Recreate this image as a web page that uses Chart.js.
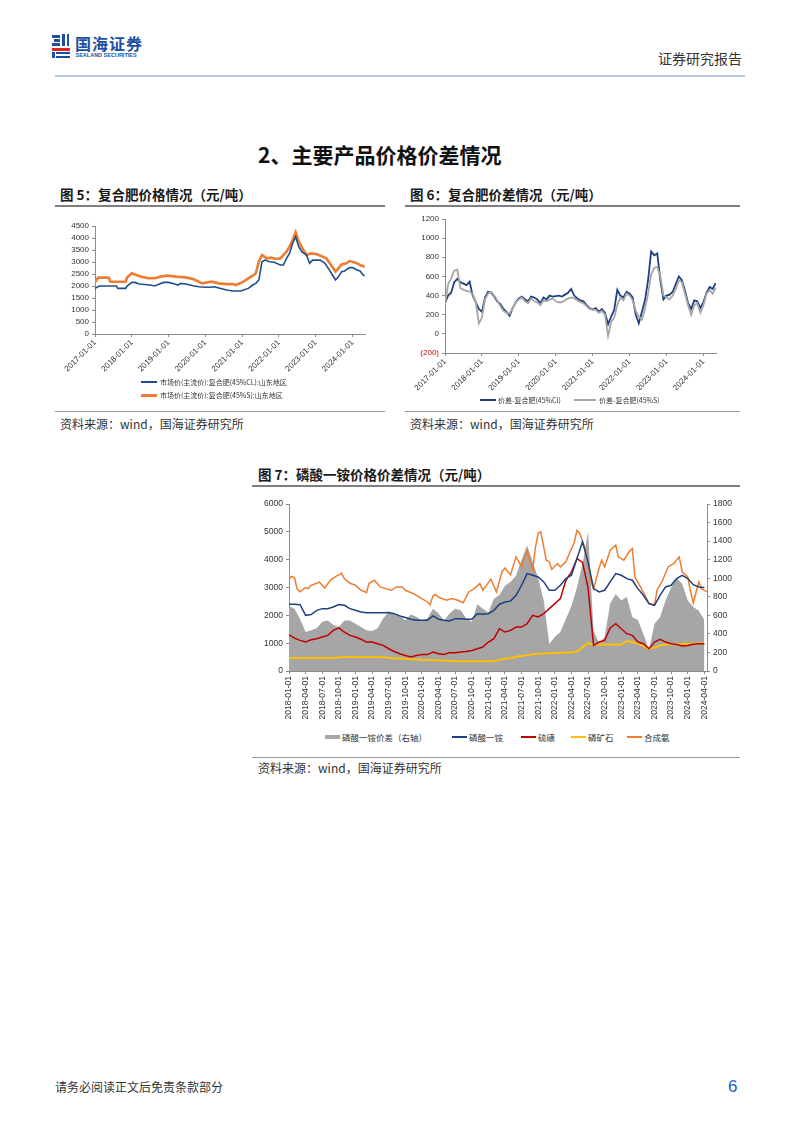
<!DOCTYPE html>
<html><head><meta charset="utf-8">
<script src="https://cdn.jsdelivr.net/npm/chart.js@4.4.1/dist/chart.umd.min.js"></script>
<style>
body{margin:0;background:#fff;}
#page{position:relative;width:802px;height:1133px;overflow:hidden;font-family:"Noto Sans CJK SC","Liberation Sans",sans-serif;color:#1a1a1a;background:#fff;}
.a{position:absolute;white-space:nowrap;line-height:1;}
.b{position:absolute;}
canvas{position:absolute;}
.lg{position:absolute;white-space:nowrap;line-height:1;color:#333;}
</style></head><body><div id="page">

<!-- header logo -->
<div class="b" style="left:52px;top:35px;width:8px;height:2.5px;background:#1e4fa3"></div>
<div class="b" style="left:54px;top:39px;width:6px;height:2.5px;background:#1e4fa3"></div>
<div class="b" style="left:52px;top:43px;width:8px;height:2.5px;background:#1e4fa3"></div>
<div class="b" style="left:62px;top:34px;width:2.5px;height:12px;background:#1e4fa3"></div>
<div class="b" style="left:66.5px;top:34px;width:2.5px;height:12px;background:#1e4fa3"></div>
<div class="b" style="left:52px;top:47.5px;width:18px;height:3px;background:#e0231d"></div>
<div class="b" style="left:52px;top:51.5px;width:2.5px;height:6.5px;background:#1e4fa3"></div>
<div class="b" style="left:56px;top:52px;width:14px;height:2.2px;background:#1e4fa3"></div>
<div class="b" style="left:56px;top:55.8px;width:14px;height:2.2px;background:#1e4fa3"></div>
<div class="a" style="left:75px;top:35px;font-size:16px;font-weight:700;color:#1e4fa3;letter-spacing:1px">国海证券</div>
<div class="a" style="left:75.5px;top:53px;font-size:5.5px;font-weight:700;color:#1e4fa3;font-family:'Liberation Sans'">SEALAND SECURITIES</div>
<div class="a" style="left:658px;top:51px;font-size:14px;color:#333">证券研究报告</div>
<div class="b" style="left:55px;top:75px;width:690px;height:2px;background:#b4c7e7"></div>

<!-- section title -->
<div class="a" style="left:258px;top:144px;font-size:21px;font-weight:700;color:#111">2、主要产品价格价差情况</div>

<!-- figure 5 / 6 titles -->
<div class="a" style="left:60px;top:188px;font-size:13.5px;font-weight:700">图 5：复合肥价格情况（元/吨）</div>
<div class="b" style="left:55px;top:205px;width:330px;height:2px;background:#7f7f7f"></div>
<div class="a" style="left:410px;top:188px;font-size:13.5px;font-weight:700">图 6：复合肥价差情况（元/吨）</div>
<div class="b" style="left:405px;top:205px;width:335px;height:2px;background:#7f7f7f"></div>

<canvas id="c5" width="330" height="168" style="left:55px;top:210px"></canvas>
<canvas id="c6" width="335" height="180" style="left:405px;top:210px"></canvas>

<!-- legend 5 -->
<div class="b" style="left:141px;top:381px;width:16px;height:2px;background:#1f4e8c"></div>
<div class="lg" style="left:160px;top:378.5px;font-size:7px">市场价(主流价):复合肥(45%CL):山东地区</div>
<div class="b" style="left:141px;top:393.5px;width:16px;height:3px;background:#ed7d31"></div>
<div class="lg" style="left:160px;top:391.5px;font-size:7px">市场价(主流价):复合肥(45%S):山东地区</div>

<!-- legend 6 -->
<div class="b" style="left:480px;top:399px;width:16px;height:2px;background:#1f3f7f"></div>
<div class="lg" style="left:498px;top:396.5px;font-size:7px">价差-复合肥(45%Cl)</div>
<div class="b" style="left:574px;top:399px;width:22px;height:2px;background:#a6a6a6"></div>
<div class="lg" style="left:599px;top:396.5px;font-size:7px">价差-复合肥(45%S)</div>

<div class="b" style="left:55px;top:411px;width:330px;height:1px;background:#999"></div>
<div class="b" style="left:405px;top:411px;width:335px;height:1px;background:#999"></div>
<div class="a" style="left:60px;top:418px;font-size:12px;color:#333">资料来源：wind，国海证券研究所</div>
<div class="a" style="left:410px;top:418px;font-size:12px;color:#333">资料来源：wind，国海证券研究所</div>

<!-- figure 7 -->
<div class="a" style="left:258px;top:468px;font-size:13.5px;font-weight:700">图 7：磷酸一铵价格价差情况（元/吨）</div>
<div class="b" style="left:252px;top:485px;width:488px;height:2px;background:#7f7f7f"></div>
<canvas id="c7" width="490" height="238" style="left:250px;top:490px"></canvas>

<div class="b" style="left:325px;top:735px;width:15px;height:4px;background:#a6a6a6"></div>
<div class="lg" style="left:342px;top:733px;font-size:8.5px">磷酸一铵价差（右轴）</div>
<div class="b" style="left:452px;top:736px;width:15px;height:2px;background:#1f3f7f"></div>
<div class="lg" style="left:469px;top:733px;font-size:8.5px">磷酸一铵</div>
<div class="b" style="left:521px;top:736px;width:15px;height:2px;background:#c00000"></div>
<div class="lg" style="left:538px;top:733px;font-size:8.5px">硫磺</div>
<div class="b" style="left:571px;top:736px;width:15px;height:2px;background:#ffc000"></div>
<div class="lg" style="left:588px;top:733px;font-size:8.5px">磷矿石</div>
<div class="b" style="left:627px;top:736px;width:15px;height:2px;background:#ed7d31"></div>
<div class="lg" style="left:644px;top:733px;font-size:8.5px">合成氨</div>

<div class="b" style="left:252px;top:757px;width:488px;height:1px;background:#999"></div>
<div class="a" style="left:258px;top:762px;font-size:12px;color:#333">资料来源：wind，国海证券研究所</div>

<!-- footer -->
<div class="a" style="left:55px;top:1081px;font-size:12px;color:#333">请务必阅读正文后免责条款部分</div>
<div class="a" style="left:728px;top:1078px;font-size:17px;color:#1f5fbf;font-family:'Liberation Sans'">6</div>

</div>
<script>
// ---------- tick labels ----------
const yearTickLabels = ["2017-01-01","2018-01-01","2019-01-01","2020-01-01","2021-01-01","2022-01-01","2023-01-01","2024-01-01"];
const quarterTickLabels = ["2018-01-01","2018-04-01","2018-07-01","2018-10-01","2019-01-01","2019-04-01","2019-07-01","2019-10-01","2020-01-01","2020-04-01","2020-07-01","2020-10-01","2021-01-01","2021-04-01","2021-07-01","2021-10-01","2022-01-01","2022-04-01","2022-07-01","2022-10-01","2023-01-01","2023-04-01","2023-07-01","2023-10-01","2024-01-01","2024-04-01"];

// ---------- Figure 5: compound fertilizer prices ----------
const dates5Cl = ["2017-01-01","2017-02-15","2017-08-01","2017-08-15","2017-11-01","2017-11-15","2018-01-01","2018-02-01","2018-03-15","2018-07-01","2018-08-15","2018-10-01","2018-11-15","2019-01-01","2019-03-01","2019-04-01","2019-05-01","2019-07-01","2019-09-01","2019-11-01","2020-01-01","2020-02-15","2020-04-01","2020-06-01","2020-08-01","2020-10-01","2020-12-15","2021-01-15","2021-03-01","2021-04-15","2021-05-15","2021-06-15","2021-07-15","2021-08-15","2021-10-01","2021-11-15","2022-01-15","2022-02-15","2022-03-15","2022-04-15","2022-05-15","2022-06-15","2022-07-15","2022-08-15","2022-10-01","2022-11-01","2022-12-01","2023-02-15","2023-04-01","2023-05-15","2023-06-15","2023-07-15","2023-08-15","2023-09-15","2023-10-15","2023-12-01","2024-01-01","2024-02-15","2024-03-15","2024-04-15","2024-05-01"];
const price5Cl = [1900,2000,2000,1900,1900,2000,2150,2150,2080,2040,2000,2080,2150,2150,2080,2040,2110,2070,2010,1970,1945,1945,1970,1900,1830,1790,1790,1830,1900,2040,2110,2250,3010,3080,3010,2990,2875,2875,3150,3360,3780,4055,3640,3430,3290,2945,3080,3080,2945,2670,2460,2250,2390,2600,2625,2765,2765,2670,2625,2460,2420];
const dates5S = ["2017-01-01","2017-02-01","2017-05-15","2017-06-01","2017-11-01","2017-11-15","2018-01-01","2018-02-15","2018-04-01","2018-06-15","2018-08-15","2018-10-15","2018-12-15","2019-03-15","2019-06-15","2019-09-01","2019-12-01","2020-03-01","2020-05-15","2020-08-01","2020-10-01","2020-11-01","2021-01-15","2021-03-01","2021-04-15","2021-05-15","2021-06-15","2021-07-15","2021-09-01","2021-10-15","2021-12-01","2022-01-15","2022-03-15","2022-04-15","2022-05-15","2022-06-15","2022-07-15","2022-09-01","2022-10-01","2022-11-15","2023-01-15","2023-04-15","2023-06-01","2023-07-15","2023-08-01","2023-09-15","2023-11-01","2023-12-01","2024-01-01","2024-02-15","2024-03-15","2024-05-01"];
const price5S = [2150,2350,2350,2180,2180,2350,2530,2460,2390,2320,2320,2390,2430,2390,2360,2290,2110,2180,2110,2080,2080,2040,2180,2320,2430,2530,3010,3290,3150,3180,3125,3150,3430,3640,3920,4240,3850,3500,3290,3360,3320,3150,2875,2600,2670,2900,2945,3040,3010,2945,2875,2800];

// ---------- Figure 6: compound fertilizer spreads (monthly from 2017-01) ----------
const spreadStart = "2017-01";
const spreadCl = [320,400,430,540,575,540,525,510,545,400,
  330,260,230,380,440,430,390,340,310,260,
  230,190,270,330,370,390,360,340,390,380,
  360,320,380,360,400,390,395,400,390,410,
  430,470,400,370,350,340,300,270,255,270,
  230,260,220,100,180,250,460,400,380,440,
  420,380,200,110,230,350,560,860,820,840,
  560,360,400,410,440,520,600,560,450,320,
  260,350,340,270,330,430,490,470,530];
const spreadS = [300,520,580,660,670,480,460,450,440,420,
  330,110,170,360,420,440,400,350,290,240,
  220,210,270,330,360,380,340,320,370,340,
  330,300,350,340,360,370,340,330,330,350,
  370,380,370,350,330,320,290,260,250,250,
  220,240,200,-20,120,170,300,380,350,420,
  400,350,240,180,150,260,420,620,690,700,
  600,400,380,360,400,470,560,540,420,300,
  200,300,320,220,300,420,460,420,480];

// ---------- Figure 7: MAP prices & spread (monthly from 2018-01) ----------
const mapStart = "2018-01";
const mapSpread = [700,670,560,420,440,460,530,545,495,475,
  545,545,510,475,440,430,460,565,635,620,
  600,545,610,585,545,565,670,620,545,620,
  670,655,565,530,720,670,630,780,820,920,
  960,1030,1200,1350,1180,1000,760,290,370,420,
  560,700,900,1150,1500,430,300,370,730,830,
  760,800,580,550,400,230,510,580,760,900,
  1000,940,760,690,650,550];
const mapPrice = [2400,2400,2380,2000,2030,2180,2240,2240,2300,2390,
  2360,2240,2180,2120,2090,2090,2090,2090,2100,2060,
  1980,1920,1860,1820,1820,1820,1980,1860,1820,1800,
  1880,1880,1860,1860,2060,2040,2060,2180,2400,2480,
  2510,2720,3080,3500,3440,3380,3200,2900,2900,3080,
  3320,3440,4040,4640,3920,2960,2840,2900,3200,3500,
  3440,3320,3260,2960,2720,2420,2360,2720,3020,3080,
  3320,3440,3320,3100,3020,3000];
const sulfurPrice = [1300,1180,1100,1040,1120,1160,1220,1280,1460,1550,
  1400,1280,1220,1140,1040,1040,980,920,800,700,
  620,560,500,560,590,590,680,620,590,660,
  660,680,700,740,800,860,1040,1160,1520,1400,
  1460,1580,1580,1700,2000,1940,2060,2240,2420,2600,
  3260,3560,4040,3900,3000,920,1040,1100,1550,1700,
  1520,1340,1280,1040,980,800,1040,1140,1040,980,
  950,900,920,960,980,980];
const rockPrice = [470,470,470,470,470,470,470,470,470,490,
  500,500,500,500,500,500,500,490,480,460,
  450,440,420,410,400,395,390,385,380,365,
  350,350,350,350,350,350,350,360,400,440,
  470,510,540,570,600,620,630,640,650,660,
  660,670,700,860,1000,950,950,950,950,950,
  950,1070,1040,990,900,800,840,920,950,960,
  960,970,980,980,990,1000];
const ammoniaDates = ["2018-01-01","2018-01-15","2018-02-01","2018-02-15","2018-03-01","2018-04-01","2018-04-15","2018-05-01","2018-06-01","2018-06-15","2018-07-15","2018-08-15","2018-09-15","2018-10-01","2018-10-15","2018-11-01","2018-12-01","2019-01-01","2019-02-01","2019-03-01","2019-03-15","2019-04-15","2019-05-15","2019-06-15","2019-07-15","2019-08-15","2019-09-15","2019-10-01","2019-11-15","2019-12-15","2020-02-01","2020-02-15","2020-03-01","2020-03-15","2020-04-01","2020-05-15","2020-06-15","2020-07-15","2020-08-15","2020-09-15","2020-10-15","2020-11-15","2020-12-01","2021-01-15","2021-02-15","2021-03-15","2021-04-01","2021-05-01","2021-06-01","2021-07-01","2021-08-01","2021-09-01","2021-09-15","2021-10-01","2021-10-15","2021-11-15","2021-12-01","2021-12-15","2022-01-15","2022-02-01","2022-03-01","2022-04-01","2022-04-15","2022-05-01","2022-05-15","2022-06-15","2022-07-01","2022-07-15","2022-08-01","2022-09-01","2022-09-15","2022-10-01","2022-11-01","2022-12-01","2022-12-15","2023-01-15","2023-02-15","2023-03-01","2023-03-15","2023-04-15","2023-05-15","2023-06-01","2023-07-01","2023-07-15","2023-08-15","2023-09-15","2023-10-15","2023-11-15","2023-12-01","2024-01-01","2024-01-15","2024-02-01","2024-03-01","2024-03-15","2024-04-01","2024-04-15"];
const ammoniaPrice = [3300,3400,3350,2950,2850,3000,2960,3080,3150,3200,
  2980,3260,3400,3450,3520,3320,3150,3080,2900,2820,
  3150,3260,3020,2960,2900,3020,3020,2900,2780,2660,
  2480,2380,2700,2750,2650,2540,2600,2540,2450,2840,
  2960,3140,2900,3300,2840,3560,3700,3450,4100,3750,
  4340,3600,4400,4950,5000,3980,3920,3650,3860,3740,
  3920,4400,4580,5050,4960,4400,3860,3260,2950,3700,
  3980,3740,4340,4520,4100,3980,4300,4400,3380,3020,
  2660,2420,2380,2900,3260,3740,3860,4100,3560,3380,
  2900,2450,3200,2960,2900,2850];

// ---------- helpers ----------
function toYear(s){const p=s.split('-').map(Number);return p[0]+(p[1]-1)/12+((p[2]||1)-1)/365;}
function monthX(start,i){const p=start.split('-').map(Number);return p[0]+(p[1]-1+i)/12;}
function pts(dates,vals){return vals.map((v,i)=>({x:toYear(dates[i]),y:v}));}
function mpts(start,vals){return vals.map((v,i)=>({x:monthX(start,i),y:v}));}

Chart.defaults.font.family = "'Liberation Sans', Arial, sans-serif";
Chart.defaults.color = '#333';
const AX = '#8c8c8c';
const plain = v => String(v);
const base = {animation:false,responsive:false,devicePixelRatio:1,
  plugins:{legend:{display:false},tooltip:{enabled:false}},
  elements:{point:{radius:0},line:{tension:0}}};

function xYears(max,h){
  return {type:'linear',min:2017,max:max,
    afterBuildTicks:s=>{s.ticks=yearTickLabels.map(l=>({value:toYear(l)}));},
    afterFit:s=>{s.height=h;},
    ticks:{autoSkip:false,minRotation:45,maxRotation:45,padding:1,font:{size:8},color:'#333',
      callback:(v,i)=>yearTickLabels[i]},
    grid:{drawOnChartArea:false,tickLength:3,color:AX},border:{color:AX}};
}

// Figure 5
new Chart(document.getElementById('c5'),{type:'line',
  data:{datasets:[
    {data:pts(dates5Cl,price5Cl),borderColor:'#1f4e8c',borderWidth:1.6,pointRadius:0},
    {data:pts(dates5S,price5S),borderColor:'#ed7d31',borderWidth:2.6,pointRadius:0}
  ]},
  options:Object.assign({},base,{layout:{padding:{top:16,right:20,left:0,bottom:0}},
    scales:{x:xYears(2024.34,44),
      y:{min:0,max:4500,afterFit:s=>{s.width=40;},
        ticks:{stepSize:500,autoSkip:false,font:{size:8},color:'#333',padding:3,callback:plain},
        grid:{drawOnChartArea:false,tickLength:3,color:AX},border:{color:AX}}}})
});

// Figure 6
new Chart(document.getElementById('c6'),{type:'line',
  data:{datasets:[
    {data:mpts(spreadStart,spreadS),borderColor:'#a6a6a6',borderWidth:1.8,pointRadius:0},
    {data:mpts(spreadStart,spreadCl),borderColor:'#1f3f7f',borderWidth:1.8,pointRadius:0}
  ]},
  options:Object.assign({},base,{layout:{padding:{top:9,right:24,left:0,bottom:0}},
    scales:{x:xYears(2024.34,37),
      y:{min:-200,max:1200,afterFit:s=>{s.width=40;},
        ticks:{stepSize:200,autoSkip:false,font:{size:8},padding:3,
          color:c=>(c.tick&&c.tick.value<0)?'#c00000':'#333',
          callback:v=>v<0?'('+Math.abs(v)+')':String(v)},
        grid:{drawOnChartArea:false,tickLength:3,color:AX},border:{color:AX}}}})
});

// Figure 7
new Chart(document.getElementById('c7'),{type:'line',
  data:{datasets:[
    {label:'磷酸一铵价差（右轴）',data:mpts(mapStart,mapSpread),yAxisID:'y1',fill:'origin',backgroundColor:'#a6a6a6',borderWidth:0,borderColor:'rgba(0,0,0,0)',pointRadius:0,order:5},
    {label:'磷酸一铵',data:mpts(mapStart,mapPrice),yAxisID:'y',borderColor:'#1f3f7f',borderWidth:1.5,pointRadius:0,order:1},
    {label:'硫磺',data:mpts(mapStart,sulfurPrice),yAxisID:'y',borderColor:'#c00000',borderWidth:1.5,pointRadius:0,order:1},
    {label:'磷矿石',data:mpts(mapStart,rockPrice),yAxisID:'y',borderColor:'#ffc000',borderWidth:2,pointRadius:0,order:1},
    {label:'合成氨',data:pts(ammoniaDates,ammoniaPrice),yAxisID:'y',borderColor:'#ed7d31',borderWidth:1.5,pointRadius:0,order:1}
  ]},
  options:Object.assign({},base,{layout:{padding:{top:14,right:0,left:0,bottom:0}},
    scales:{
      x:{type:'linear',min:2018,max:2024.29,
        afterBuildTicks:s=>{s.ticks=quarterTickLabels.map(l=>({value:toYear(l)}));},
        afterFit:s=>{s.height=57;},
        ticks:{autoSkip:false,minRotation:90,maxRotation:90,padding:2,font:{size:8.5},color:'#333',
          callback:(v,i)=>quarterTickLabels[i]},
        grid:{drawOnChartArea:false,tickLength:3,color:AX},border:{color:AX}},
      y:{position:'left',min:0,max:6000,afterFit:s=>{s.width=39;},
        ticks:{stepSize:1000,autoSkip:false,font:{size:8.5},color:'#333',padding:3,callback:plain},
        grid:{drawOnChartArea:false,tickLength:3,color:AX},border:{color:AX}},
      y1:{position:'right',min:0,max:1800,afterFit:s=>{s.width=33;},
        ticks:{stepSize:200,autoSkip:false,font:{size:8.5},color:'#333',padding:3,callback:plain},
        grid:{drawOnChartArea:false,tickLength:3,color:AX},border:{color:AX}}
    }})
});
</script>
</body></html>
